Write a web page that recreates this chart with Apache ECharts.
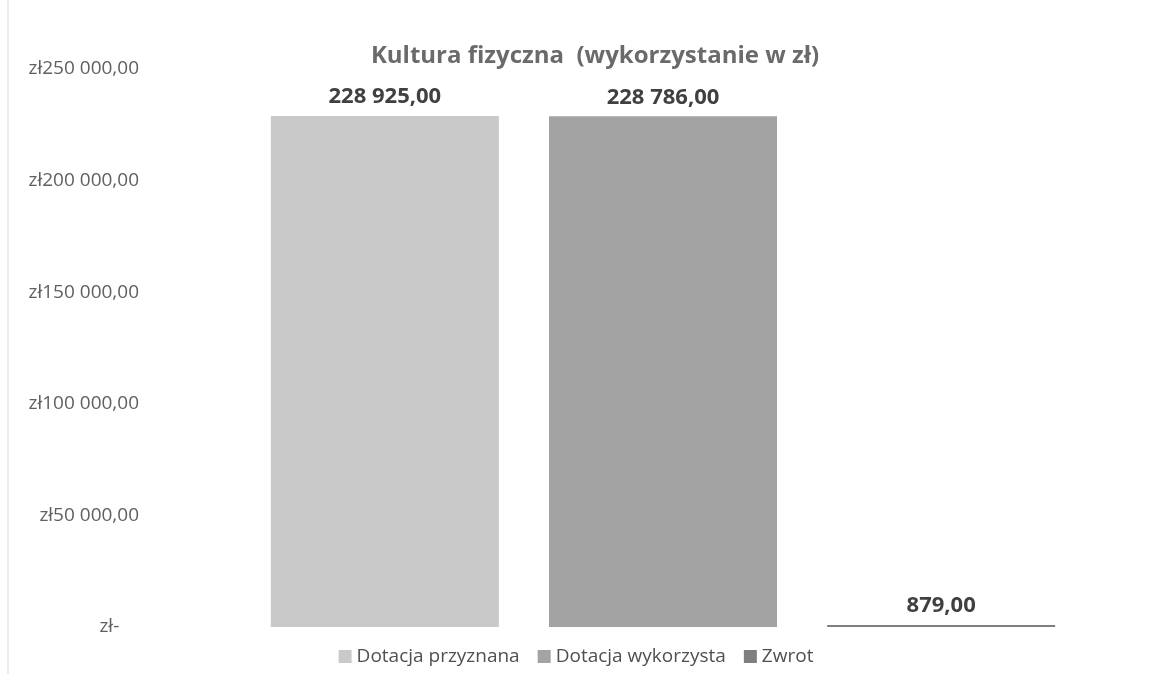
<!DOCTYPE html>
<html>
<head>
<meta charset="utf-8">
<script src="https://cdn.jsdelivr.net/npm/echarts@6/dist/echarts.min.js"></script>
<style>
  html, body { margin: 0; padding: 0; background: #fff; }
  #chart { width: 1152px; height: 674px; }
</style>
</head>
<body>
<div id="chart"></div>
<script>
// dane wykresu
var categories = ['Kultura fizyczna'];
var seriesNames = ['Dotacja przyznana', 'Dotacja wykorzysta', 'Zwrot'];
var przyznana = [228925];
var wykorzystana = [228786];
var zwrot = [879];
var colors = ['#c9c9c9', '#a3a3a3', '#7f7f7f'];

function fmtPL(v) {
  var parts = v.toFixed(2).split('.');
  var int = parts[0].replace(/\B(?=(\d{3})+(?!\d))/g, ' ');
  return int + ',' + parts[1];
}

var myChart = echarts.init(document.getElementById('chart'));
var font = 'Open Sans, Noto Sans, sans-serif';

function mkSeries(name, data, i) {
  return {
    name: name,
    type: 'bar',
    data: data,
    barWidth: 228,
    barGap: '22%',
    itemStyle: { color: colors[i] },
    label: {
      show: true,
      position: 'top',
      distance: 8,
      fontFamily: font,
      fontWeight: 'bold',
      fontSize: 22,
      color: '#404040',
      formatter: function (p) { return fmtPL(p.value); }
    }
  };
}

myChart.setOption({
  animation: false,
  title: {
    text: 'Kultura fizyczna  (wykorzystanie w zł)',
    left: 590,
    textAlign: 'center',
    top: 39,
    textStyle: { fontFamily: font, fontSize: 24, fontWeight: 'bold', color: '#6a6a6a' }
  },
  legend: {
    data: seriesNames,
    bottom: 3,
    left: 'center',
    itemWidth: 13,
    itemHeight: 13,
    itemGap: 18,
    icon: 'rect',
    textStyle: { fontFamily: font, fontSize: 19, color: '#505050' }
  },
  grid: { left: 174, right: 0, top: 69, bottom: 47 },
  xAxis: {
    type: 'category',
    data: categories,
    axisLine: { show: false },
    axisTick: { show: false },
    axisLabel: { show: false }
  },
  yAxis: {
    type: 'value',
    min: 0,
    max: 250000,
    interval: 50000,
    splitLine: { show: false },
    axisLine: { show: false },
    axisTick: { show: false },
    axisLabel: {
      margin: 35,
      fontFamily: font,
      fontSize: 19,
      color: '#606060',
      formatter: function (v) {
        if (v === 0) return 'zł-    ';
        return 'zł' + fmtPL(v);
      }
    }
  },
  graphic: [{
    type: 'line',
    shape: { x1: 8, y1: 0, x2: 8, y2: 674 },
    style: { stroke: '#d8d8d8', lineWidth: 1 }
  }],
  series: [
    mkSeries(seriesNames[0], przyznana, 0),
    mkSeries(seriesNames[1], wykorzystana, 1),
    mkSeries(seriesNames[2], zwrot, 2)
  ]
});
</script>
</body>
</html>
